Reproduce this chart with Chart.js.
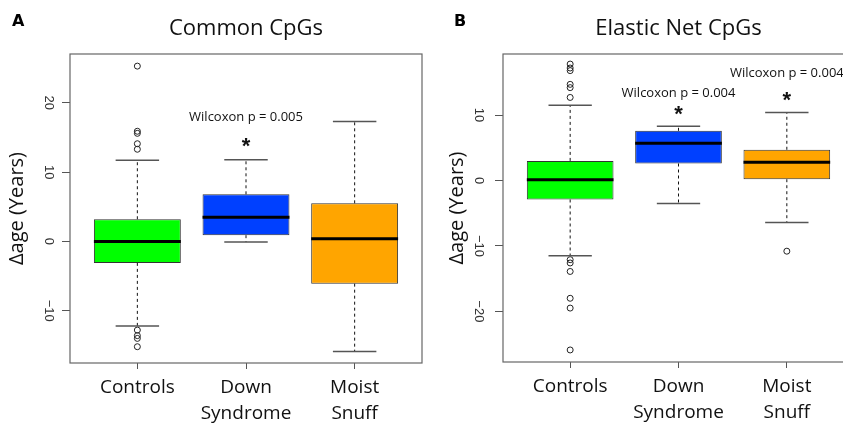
<!DOCTYPE html>
<html>
<head>
<meta charset="utf-8">
<script src="https://cdn.jsdelivr.net/npm/chart.js@4.4.1/dist/chart.umd.min.js"></script>
<style>
    html, body { margin: 0; padding: 0; background: #fff; overflow: hidden; }
    #wrap { position: relative; width: 843px; height: 426px; overflow: hidden; }
    .panel { position: absolute; top: 0; }
</style>
</head>
<body>
<div id="wrap">
    <div class="panel" style="left:0px"><canvas id="chartA" width="430" height="426"></canvas></div>
    <div class="panel" style="left:421px"><canvas id="chartB" width="440" height="426"></canvas></div>
</div>
<script>
// Categories
const categories = [['Controls'], ['Down', 'Syndrome'], ['Moist', 'Snuff']];
const boxColors = ['#00ff00', '#0040ff', '#ffa500'];

// Panel A - Common CpGs
const commonQ1 = [-3.1, 0.9, -6.1];
const commonMedian = [0.0, 3.5, 0.4];
const commonQ3 = [3.2, 6.8, 5.5];
const commonLow = [-12.2, -0.1, -15.9];
const commonHigh = [11.7, 11.8, 17.3];
const commonOutliers = [[25.3, 15.9, 15.6, 14.1, 13.3, -12.8, -13.6, -14.0, -15.2], [], []];
const commonTicks = [-10, 0, 10, 20];
const commonNotes = ['', 'Wilcoxon p = 0.005', ''];

// Panel B - Elastic Net CpGs
const elasticQ1 = [-2.9, 2.6, 0.2];
const elasticMedian = [0.1, 5.7, 2.8];
const elasticQ3 = [3.0, 7.6, 4.7];
const elasticLow = [-11.5, -3.5, -6.4];
const elasticHigh = [11.5, 8.3, 10.4];
const elasticOutliers = [[17.8, 17.2, 16.8, 14.7, 14.2, 12.7, -12.1, -12.6, -13.9, -18.0, -19.5, -25.9], [], [-10.8]];
const elasticTicks = [-20, -10, 0, 10];
const elasticNotes = ['', 'Wilcoxon p = 0.004', 'Wilcoxon p = 0.004'];

const panels = {
    chartA: {
        tag: 'A', title: 'Common CpGs',
        q1: commonQ1, median: commonMedian, q3: commonQ3, low: commonLow, high: commonHigh,
        outliers: commonOutliers, ticks: commonTicks, notes: commonNotes,
        noteY: [0, 17.9, 0], starY: [0, 14.1, 0],
        yMin: -17.55, yMax: 27.05,
        yWidth: 70, tickPad: 2, titlePad: 5, padRight: 8, xHeight: 63, tagX: 12
    },
    chartB: {
        tag: 'B', title: 'Elastic Net CpGs',
        q1: elasticQ1, median: elasticMedian, q3: elasticQ3, low: elasticLow, high: elasticHigh,
        outliers: elasticOutliers, ticks: elasticTicks, notes: elasticNotes,
        noteY: [0, 13.3, 16.4], starY: [0, 10.5, 12.6],
        yMin: -27.74, yMax: 19.34,
        yWidth: 82, tickPad: 5, titlePad: 24, padRight: 7, xHeight: 64, tagX: 33
    }
};

// whiskers, caps, medians, frame and notes
const boxParts = {
    id: 'boxParts',
    afterDatasetsDraw(chart) {
        const p = panels[chart.canvas.id];
        const ctx = chart.ctx;
        const xs = chart.scales.x, ys = chart.scales.y;
        const meta = chart.getDatasetMeta(0);
        ctx.save();
        meta.data.forEach((bar, i) => {
            const cx = bar.x, half = bar.width / 2;
            const yHigh = ys.getPixelForValue(p.high[i]);
            const yLow = ys.getPixelForValue(p.low[i]);
            const yQ3 = ys.getPixelForValue(p.q3[i]);
            const yQ1 = ys.getPixelForValue(p.q1[i]);
            const yMed = ys.getPixelForValue(p.median[i]);

            ctx.strokeStyle = '#111';
            ctx.lineWidth = 1;
            ctx.setLineDash([3, 3]);
            ctx.beginPath();
            ctx.moveTo(cx, yQ3); ctx.lineTo(cx, yHigh);
            ctx.moveTo(cx, yQ1); ctx.lineTo(cx, yLow);
            ctx.stroke();
            ctx.setLineDash([]);

            ctx.strokeStyle = '#555';
            ctx.lineWidth = 1.5;
            ctx.beginPath();
            ctx.moveTo(cx - half / 2, yHigh); ctx.lineTo(cx + half / 2, yHigh);
            ctx.moveTo(cx - half / 2, yLow); ctx.lineTo(cx + half / 2, yLow);
            ctx.stroke();

            ctx.strokeStyle = '#000';
            ctx.lineWidth = 3;
            ctx.beginPath();
            ctx.moveTo(cx - half, yMed); ctx.lineTo(cx + half, yMed);
            ctx.stroke();
        });

        const a = chart.chartArea;
        ctx.strokeStyle = '#666';
        ctx.lineWidth = 1.2;
        ctx.strokeRect(a.left, a.top, a.right - a.left, a.bottom - a.top);

        // significance notes
        ctx.fillStyle = '#111';
        ctx.textAlign = 'center';
        p.notes.forEach((txt, i) => {
            if (!txt) return;
            const cx = xs.getPixelForValue(i + 1);
            ctx.font = '13px "Open Sans"';
            ctx.textBaseline = 'middle';
            ctx.fillText(txt, cx, ys.getPixelForValue(p.noteY[i]));
            ctx.font = 'bold 22px "Liberation Sans"';
            ctx.textBaseline = 'alphabetic';
            ctx.fillText('*', cx, ys.getPixelForValue(p.starY[i]) + 9.4);
        });

        // panel letter
        ctx.textAlign = 'left';
        ctx.font = 'bold 16px "DejaVu Sans"';
        ctx.fillStyle = '#000';
        ctx.fillText(p.tag, p.tagX, 26);
        ctx.restore();
    }
};

function makeChart(id) {
    const p = panels[id];
    const boxes = p.q1.map((q, i) => ({ x: i + 1, y: [q, p.q3[i]] }));
    const points = [];
    p.outliers.forEach((list, i) => list.forEach(v => points.push({ x: i + 1, y: v })));

    return new Chart(document.getElementById(id), {
        type: 'bar',
        data: {
            datasets: [{
                type: 'bar',
                data: boxes,
                backgroundColor: boxColors,
                borderColor: '#333',
                borderWidth: 1,
                borderSkipped: false,
                categoryPercentage: 1,
                barPercentage: 0.8
            }, {
                type: 'scatter',
                data: points,
                pointStyle: 'circle',
                pointRadius: 3,
                borderColor: '#222',
                borderWidth: 1,
                backgroundColor: 'rgba(0,0,0,0)'
            }]
        },
        options: {
            responsive: false,
            animation: false,
            layout: { padding: { left: 0, right: p.padRight, top: 0, bottom: 0 } },
            plugins: {
                legend: { display: false },
                tooltip: { enabled: false },
                title: {
                    display: true,
                    text: p.title,
                    fullSize: false,
                    color: '#111',
                    font: { family: 'Open Sans', size: 22, weight: 'normal', lineHeight: 1.2 },
                    padding: { top: 15.5, bottom: 12.1 }
                }
            },
            scales: {
                x: {
                    type: 'linear',
                    min: 0.38,
                    max: 3.62,
                    offset: false,
                    afterBuildTicks: s => { s.ticks = [1, 2, 3].map(v => ({ value: v })); },
                    afterFit: s => { s.height = p.xHeight; },
                    grid: { drawOnChartArea: false, drawTicks: true, tickLength: 6, color: '#555', offset: false },
                    border: { display: false },
                    ticks: {
                        autoSkip: false,
                        maxRotation: 0,
                        padding: 5,
                        color: '#111',
                        font: { family: 'Open Sans', size: 19, lineHeight: 1.4 },
                        callback: v => categories[Math.round(v) - 1]
                    }
                },
                y: {
                    min: p.yMin,
                    max: p.yMax,
                    afterBuildTicks: s => { s.ticks = p.ticks.map(v => ({ value: v })); },
                    afterFit: s => { s.width = p.yWidth; },
                    grid: { drawOnChartArea: false, drawTicks: true, tickLength: 8, color: '#555' },
                    border: { display: false },
                    ticks: {
                        minRotation: -90,
                        maxRotation: -90,
                        crossAlign: 'center',
                        padding: p.tickPad,
                        color: '#333',
                        font: { family: 'Liberation Sans', size: 13 },
                        callback: v => String(v).replace('-', '\u2212')
                    },
                    title: {
                        display: true,
                        text: '\u0394age (Years)',
                        color: '#111',
                        font: { family: 'Open Sans', size: 20, lineHeight: 1.2 },
                        padding: { top: p.titlePad, bottom: 0 }
                    }
                }
            }
        },
        plugins: [boxParts]
    });
}

makeChart('chartA');
makeChart('chartB');
</script>
</body>
</html>
